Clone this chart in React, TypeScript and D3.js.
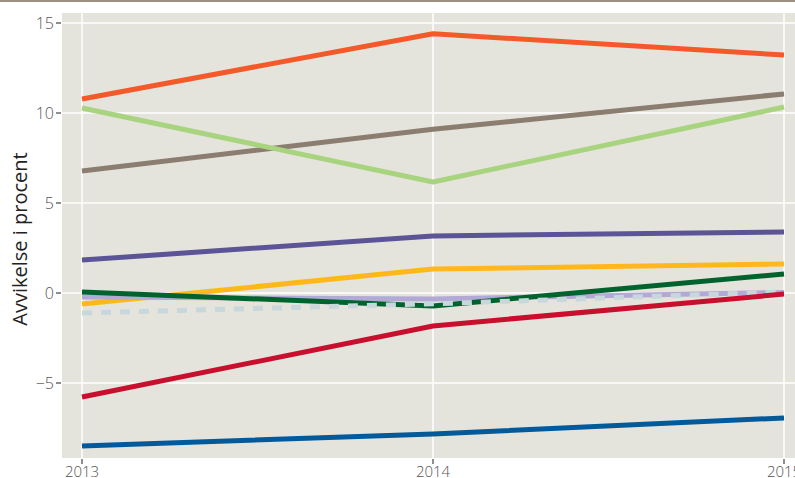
import React from "react";
import * as d3 from "d3";

const years = [2013, 2014, 2015];
const yTicks = [-5, 0, 5, 10, 15];

const seriesNames = ["orange", "brown", "lightgreen", "purple", "yellow", "lavender", "darkgreen", "lightblue", "red", "blue"];
const seriesColors = ["#f4592a", "#8b7d70", "#a9d47f", "#5b5496", "#ffb81c", "#b3a9d6", "#00632e", "#c7d7dc", "#c8102e", "#005a9c"];
const seriesDashed = [false, false, false, false, false, false, false, true, false, false];
const orangeVals = [10.78, 14.4, 13.22];
const brownVals = [6.78, 9.1, 11.06];
const lightgreenVals = [10.28, 6.17, 10.33];
const purpleVals = [1.83, 3.17, 3.39];
const yellowVals = [-0.61, 1.33, 1.61];
const lavenderVals = [-0.22, -0.33, 0.03];
const darkgreenVals = [0.06, -0.72, 1.06];
const lightblueVals = [-1.11, -0.6, 0.06];
const redVals = [-5.78, -1.83, -0.06];
const blueVals = [-8.5, -7.83, -6.94];
const seriesValues = [orangeVals, brownVals, lightgreenVals, purpleVals, yellowVals, lavenderVals, darkgreenVals, lightblueVals, redVals, blueVals];

const W = 795, H = 478;
const panel = { left: 62, top: 13, right: 795, bottom: 458 };

export default function App() {
  const x = d3.scaleLinear().domain([2013, 2015]).range([82, 784]);
  const y = d3.scaleLinear().domain([0, 5]).range([293, 203]);
  const line = d3.line<number>().x((_, i) => x(years[i])).y((d) => y(d));
  const font = "'Open Sans', 'Liberation Sans', sans-serif";
  return (
    <svg width={W} height={H} style={{ position: "absolute", left: 0, top: 0, display: "block" }}>
      <rect x={0} y={0} width={W} height={H} fill="#ffffff" />
      <rect x={0} y={0} width={W} height={2} fill="#9c8f82" />
      <rect x={panel.left} y={panel.top} width={panel.right - panel.left} height={panel.bottom - panel.top} fill="#e5e4dc" />
      {yTicks.map((t) => (
        <g key={"y" + t}>
          <line x1={panel.left} x2={panel.right} y1={y(t)} y2={y(t)} stroke="#ffffff" strokeWidth={1.5} />
          <line x1={56} x2={61} y1={y(t)} y2={y(t)} stroke="#444" strokeWidth={1.2} />
          <text x={54} y={y(t)} dy="0.36em" textAnchor="end" fontFamily={font} fontWeight={300} fontSize={16} fill="#555">
            {t < 0 ? "\u2212" + Math.abs(t) : String(t)}
          </text>
        </g>
      ))}
      {years.map((yr) => (
        <g key={"x" + yr}>
          <line x1={x(yr)} x2={x(yr)} y1={panel.top} y2={panel.bottom} stroke="#ffffff" strokeWidth={1.5} />
          <line x1={x(yr)} x2={x(yr)} y1={panel.bottom + 1} y2={panel.bottom + 6} stroke="#444" strokeWidth={1.2} />
          <text x={x(yr)} y={477} textAnchor="middle" fontFamily={font} fontWeight={300} fontSize={15} fill="#555">
            {yr}
          </text>
        </g>
      ))}
      {seriesValues.map((vals, i) => (
        <path
          key={seriesNames[i]}
          d={line(vals) || ""}
          fill="none"
          stroke={seriesColors[i]}
          strokeWidth={5}
          strokeDasharray={seriesDashed[i] ? "10,9" : undefined}
          strokeLinejoin="round"
        />
      ))}
      <text
        transform={`translate(27, 239) rotate(-90)`}
        textAnchor="middle"
        fontFamily={font}
        fontSize={20}
        fill="#222"
      >
        Avvikelse i procent
      </text>
    </svg>
  );
}
